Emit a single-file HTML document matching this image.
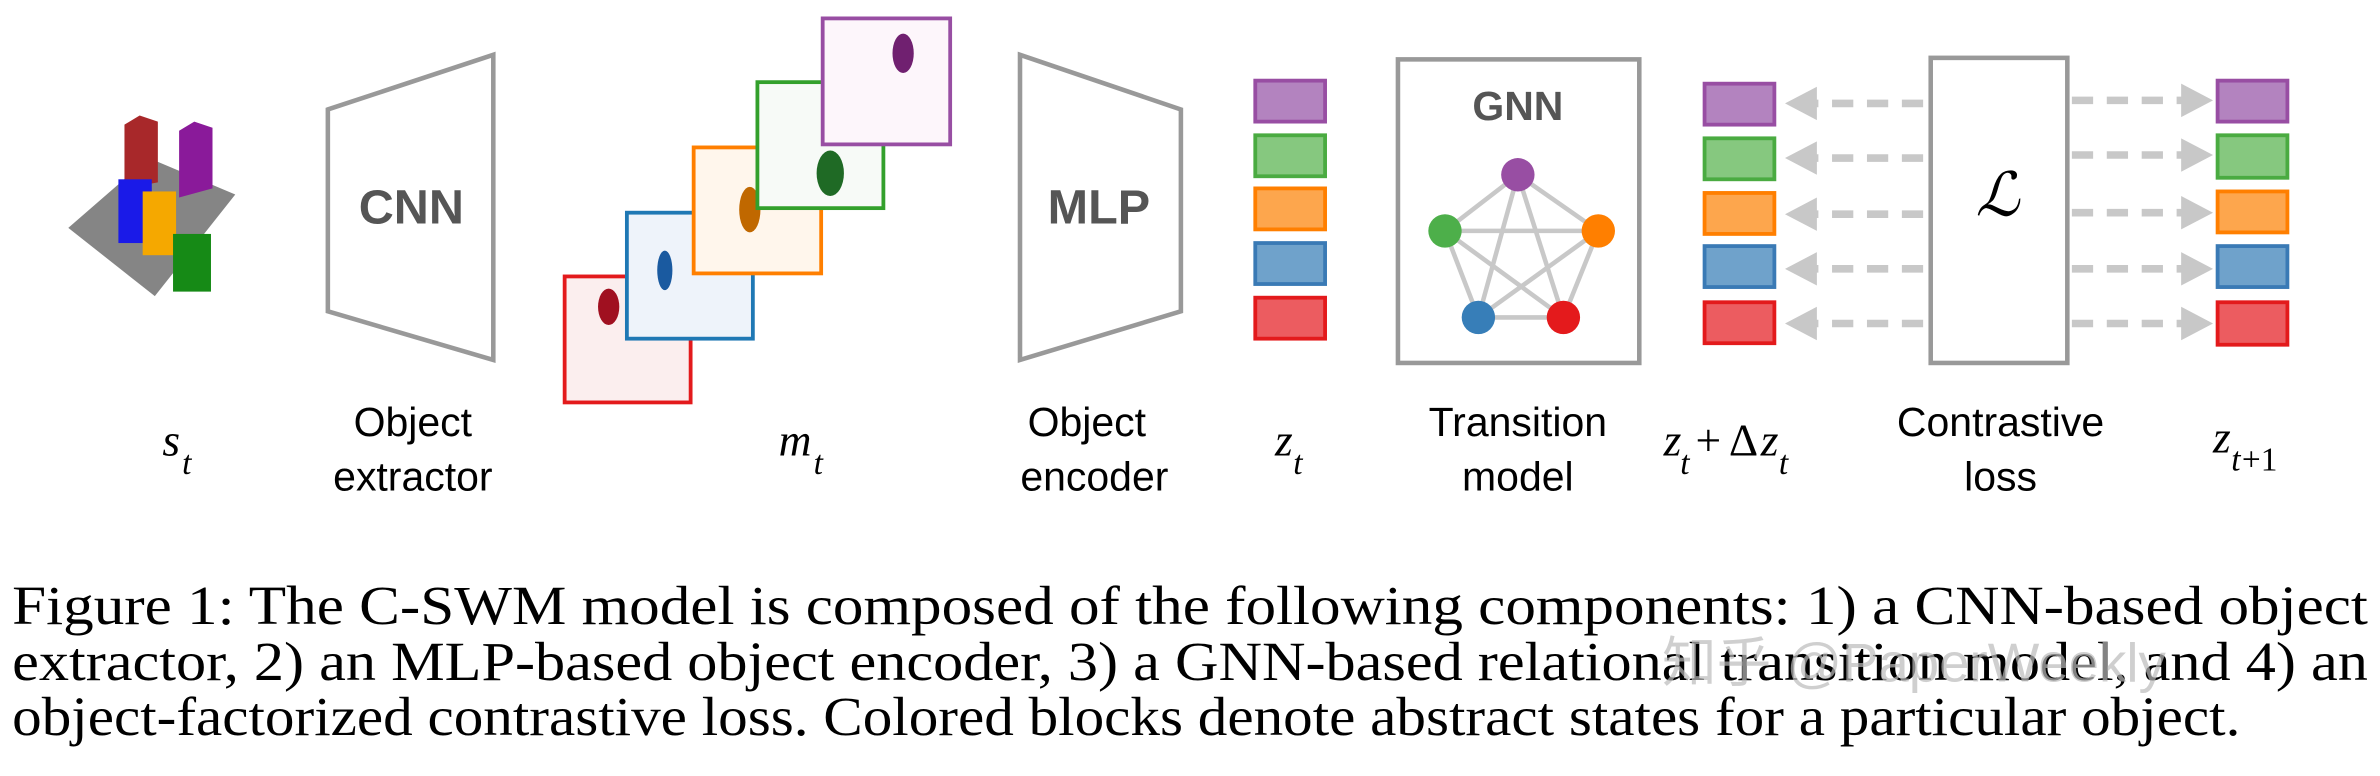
<!DOCTYPE html>
<html><head><meta charset="utf-8"><style>
html,body{margin:0;padding:0;background:#fff;width:2380px;height:776px;overflow:hidden}
svg{display:block}
</style></head><body>
<svg width="2380" height="776" viewBox="0 0 1568 511" xmlns="http://www.w3.org/2000/svg">
<!-- cube scene -->
<polygon points="45,150 98,104 155,128 102,195" fill="#858585"/>
<polygon points="82,82 92,76 104,80 104,120 82,124" fill="#a8282a"/>
<polygon points="118,86 128,80 140,84 140,124 118,130" fill="#8a1a9a"/>
<rect x="78" y="118" width="22" height="42" fill="#1a1ae8"/>
<rect x="94" y="126" width="22" height="42" fill="#f5a800"/>
<rect x="114" y="154" width="25" height="38" fill="#168a16"/>
<text font-family="Liberation Serif, serif" font-style="italic" y="300"><tspan x="107" font-size="30">s</tspan><tspan x="120" dy="12" font-size="22">t</tspan></text>

<!-- CNN -->
<polygon points="216,72 325,36 325,237 216,205" fill="#fff" stroke="#999" stroke-width="3"/>
<text x="271" y="147" font-family="Liberation Sans, sans-serif" font-weight="bold" font-size="32" fill="#555" text-anchor="middle">CNN</text>
<text x="272" y="287" font-family="Liberation Sans, sans-serif" font-size="27" text-anchor="middle">Object</text>
<text x="272" y="323" font-family="Liberation Sans, sans-serif" font-size="27" text-anchor="middle">extractor</text>

<!-- masks -->
<rect x="372" y="182" width="83" height="83" fill="#fbeeee" stroke="#e31a1c" stroke-width="2.5"/>
<ellipse cx="401" cy="202" rx="7" ry="12" fill="#a01020"/>
<rect x="413" y="140" width="83" height="83" fill="#eef3fa" stroke="#1f78b4" stroke-width="2.5"/>
<ellipse cx="438" cy="178" rx="5" ry="13" fill="#1a5aa0"/>
<rect x="457" y="97" width="84" height="83" fill="#fff6ec" stroke="#ff7f00" stroke-width="2.5"/>
<ellipse cx="494" cy="138" rx="7" ry="15" fill="#c06800"/>
<rect x="499" y="54" width="83" height="83" fill="#f7faf7" stroke="#33a02c" stroke-width="2.5"/>
<ellipse cx="547" cy="114" rx="9" ry="15" fill="#1f6a25"/>
<rect x="542" y="12" width="84" height="83" fill="#fdf6fb" stroke="#984ea3" stroke-width="2.5"/>
<ellipse cx="595" cy="35" rx="7" ry="13" fill="#702070"/>
<text font-family="Liberation Serif, serif" font-style="italic" y="300"><tspan x="513" font-size="30">m</tspan><tspan x="536" dy="12" font-size="22">t</tspan></text>

<!-- MLP -->
<polygon points="672,36 778,72 778,205 672,237" fill="#fff" stroke="#999" stroke-width="3"/>
<text x="724" y="147" font-family="Liberation Sans, sans-serif" font-weight="bold" font-size="32" fill="#555" text-anchor="middle">MLP</text>
<text x="716" y="287" font-family="Liberation Sans, sans-serif" font-size="27" text-anchor="middle">Object</text>
<text x="721" y="323" font-family="Liberation Sans, sans-serif" font-size="27" text-anchor="middle">encoder</text>

<!-- z_t -->
<g stroke-width="2.5">
<rect x="827" y="53" width="46" height="27" fill="#b383bf" stroke="#984ea3"/>
<rect x="827" y="89" width="46" height="27" fill="#86c87f" stroke="#4aab41"/>
<rect x="827" y="124" width="46" height="27" fill="#fda64d" stroke="#ff7f00"/>
<rect x="827" y="160" width="46" height="27" fill="#6fa2cb" stroke="#3a7ab5"/>
<rect x="827" y="196" width="46" height="27" fill="#ec5c60" stroke="#e31a1c"/>
</g>
<text font-family="Liberation Serif, serif" font-style="italic" y="300"><tspan x="840" font-size="30">z</tspan><tspan x="852" dy="12" font-size="22">t</tspan></text>

<!-- GNN -->
<rect x="921" y="39" width="159" height="200" fill="#fff" stroke="#999" stroke-width="3"/>
<text x="1000" y="79" font-family="Liberation Sans, sans-serif" font-weight="bold" font-size="27" fill="#555" text-anchor="middle">GNN</text>
<g stroke="#c8c8c8" stroke-width="3">
<line x1="1000" y1="115" x2="952" y2="152"/><line x1="1000" y1="115" x2="1053" y2="152"/>
<line x1="1000" y1="115" x2="974" y2="209"/><line x1="1000" y1="115" x2="1030" y2="209"/>
<line x1="952" y1="152" x2="1053" y2="152"/><line x1="952" y1="152" x2="974" y2="209"/>
<line x1="952" y1="152" x2="1030" y2="209"/><line x1="1053" y1="152" x2="974" y2="209"/>
<line x1="1053" y1="152" x2="1030" y2="209"/><line x1="974" y1="209" x2="1030" y2="209"/>
</g>
<ellipse cx="1000" cy="115" rx="11" ry="11" fill="#984ea3"/>
<ellipse cx="952" cy="152" rx="11" ry="11" fill="#4daf4a"/>
<ellipse cx="1053" cy="152" rx="11" ry="11" fill="#ff7f00"/>
<ellipse cx="974" cy="209" rx="11" ry="11" fill="#377eb8"/>
<ellipse cx="1030" cy="209" rx="11" ry="11" fill="#e41a1c"/>
<text x="1000" y="287" font-family="Liberation Sans, sans-serif" font-size="27" text-anchor="middle">Transition</text>
<text x="1000" y="323" font-family="Liberation Sans, sans-serif" font-size="27" text-anchor="middle">model</text>

<!-- z_t + dz -->
<g stroke-width="2.5">
<rect x="1123" y="55" width="46" height="27" fill="#b383bf" stroke="#984ea3"/>
<rect x="1123" y="91" width="46" height="27" fill="#86c87f" stroke="#4aab41"/>
<rect x="1123" y="127" width="46" height="27" fill="#fda64d" stroke="#ff7f00"/>
<rect x="1123" y="162" width="46" height="27" fill="#6fa2cb" stroke="#3a7ab5"/>
<rect x="1123" y="199" width="46" height="27" fill="#ec5c60" stroke="#e31a1c"/>
</g>
<g font-family="Liberation Serif, serif" font-size="30">
<text x="1096" y="300" font-style="italic">z</text>
<text x="1107" y="312" font-style="italic" font-size="22">t</text>
<text x="1117" y="300">+</text>
<text x="1139" y="300">Δ</text>
<text x="1160" y="300" font-style="italic">z</text>
<text x="1172" y="312" font-style="italic" font-size="22">t</text>
</g>

<!-- loss -->
<rect x="1272" y="38" width="90" height="201" fill="#fff" stroke="#999" stroke-width="3"/>
<text x="1316" y="142" font-family="Liberation Serif, serif" font-style="italic" font-size="40" text-anchor="middle">ℒ</text>
<text x="1318" y="287" font-family="Liberation Sans, sans-serif" font-size="27" text-anchor="middle">Contrastive</text>
<text x="1318" y="323" font-family="Liberation Sans, sans-serif" font-size="27" text-anchor="middle">loss</text>

<g stroke="#c8c8c8" stroke-width="5" stroke-dasharray="14,9" fill="none">
<line x1="1267" y1="68" x2="1195" y2="68"/><line x1="1267" y1="104" x2="1195" y2="104"/>
<line x1="1267" y1="141" x2="1195" y2="141"/><line x1="1267" y1="177" x2="1195" y2="177"/>
<line x1="1267" y1="213" x2="1195" y2="213"/>
<line x1="1365" y1="66" x2="1440" y2="66"/><line x1="1365" y1="102" x2="1440" y2="102"/>
<line x1="1365" y1="140" x2="1440" y2="140"/><line x1="1365" y1="177" x2="1440" y2="177"/>
<line x1="1365" y1="213" x2="1440" y2="213"/>
</g>
<g fill="#c8c8c8">
<polygon points="1176,68 1197,57 1197,79"/><polygon points="1176,104 1197,93 1197,115"/>
<polygon points="1176,141 1197,130 1197,152"/><polygon points="1176,177 1197,166 1197,188"/>
<polygon points="1176,213 1197,202 1197,224"/>
<polygon points="1458,66 1437,55 1437,77"/><polygon points="1458,102 1437,91 1437,113"/>
<polygon points="1458,140 1437,129 1437,151"/><polygon points="1458,177 1437,166 1437,188"/>
<polygon points="1458,213 1437,202 1437,224"/>
</g>

<!-- z_t+1 -->
<g stroke-width="2.5">
<rect x="1461" y="53" width="46" height="27" fill="#b383bf" stroke="#984ea3"/>
<rect x="1461" y="89" width="46" height="28" fill="#86c87f" stroke="#4aab41"/>
<rect x="1461" y="126" width="46" height="27" fill="#fda64d" stroke="#ff7f00"/>
<rect x="1461" y="162" width="46" height="27" fill="#6fa2cb" stroke="#3a7ab5"/>
<rect x="1461" y="199" width="46" height="28" fill="#ec5c60" stroke="#e31a1c"/>
</g>
<g font-family="Liberation Serif, serif">
<text x="1458" y="298" font-style="italic" font-size="30">z</text>
<text x="1470" y="310" font-style="italic" font-size="22">t</text>
<text x="1477" y="310" font-size="22">+1</text>
</g>

<!-- caption -->
<g font-family="Liberation Serif, 'Times New Roman', serif" font-size="36" fill="#000">
<text x="8" y="411" textLength="1552" lengthAdjust="spacingAndGlyphs">Figure 1: The C-SWM model is composed of the following components: 1) a CNN-based object</text>
<text x="8" y="448" textLength="1552" lengthAdjust="spacingAndGlyphs">extractor, 2) an MLP-based object encoder, 3) a GNN-based relational transition model, and 4) an</text>
<text x="8" y="484" textLength="1468" lengthAdjust="spacingAndGlyphs">object-factorized contrastive loss. Colored blocks denote abstract states for a particular object.</text>
</g>
<text x="1095" y="449" font-family="'Liberation Sans','Noto Sans CJK SC',sans-serif" font-size="36" fill="#bbb" opacity="0.7">知乎 @PaperWeekly</text>
</svg>
</body></html>
